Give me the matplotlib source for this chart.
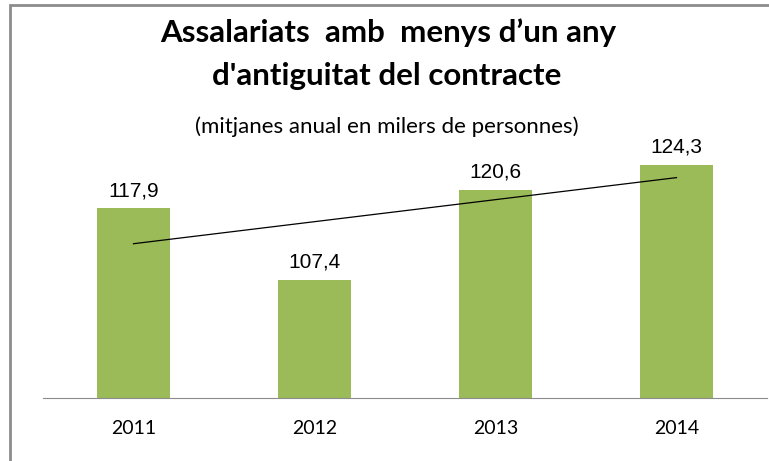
import numpy as np
import matplotlib
matplotlib.use("Agg")
import matplotlib.pyplot as plt
from matplotlib.patches import Rectangle

years = ["2011", "2012", "2013", "2014"]
values = [117.9, 107.4, 120.6, 124.3]
labels = ["117,9", "107,4", "120,6", "124,3"]

title1 = "Assalariats  amb  menys d\u2019un any"
title2 = "d'antiguitat del contracte"
subtitle = "(mitjanes anual en milers de personnes)"

W, H = 769, 461
fig = plt.figure(figsize=(W / 100, H / 100), dpi=100)

# outer frame (cut off at right and bottom as in the source)
fig.patches.append(Rectangle((10 / W, -0.05), 1.2, (H - 5) / H + 0.05,
                             transform=fig.transFigure, fill=False,
                             edgecolor="#8c8c8c", linewidth=2))

ax = fig.add_axes([43 / W, (H - 398) / H, (767 - 43) / W, (398 - 126) / H])
x = np.arange(len(years))
ax.bar(x, values, width=0.4, color="#9BBB59", zorder=2)

# linear trend line
k, b = np.polyfit(x, values, 1)
ax.plot(x, k * x + b, color="black", linewidth=0.9, zorder=3)

for xi, v, lab in zip(x, values, labels):
    ax.text(xi, v + 2.6, lab, ha="center", va="center",
            family="Liberation Sans", fontsize=15)

ax.set_xlim(-0.5, 3.5)
ax.set_ylim(90, 130)
ax.set_xticks(x)
ax.set_xticklabels(years, family="Lato", fontsize=14)
ax.tick_params(axis="x", length=0, pad=16)
ax.set_yticks([])
for s in ["top", "right", "left"]:
    ax.spines[s].set_visible(False)
ax.spines["bottom"].set_color("#8c8c8c")
ax.patch.set_alpha(0)

fig.text(388 / W, 1 - 33 / H, title1, ha="center", va="center",
         family="Lato", fontweight="bold", fontsize=22.5)
fig.text(387 / W, 1 - 76 / H, title2, ha="center", va="center",
         family="Lato", fontweight="bold", fontsize=22.5)
fig.text(387 / W, 1 - 127 / H, subtitle, ha="center", va="center",
         family="Lato", fontsize=16)

fig.savefig("out.png", dpi=100)
